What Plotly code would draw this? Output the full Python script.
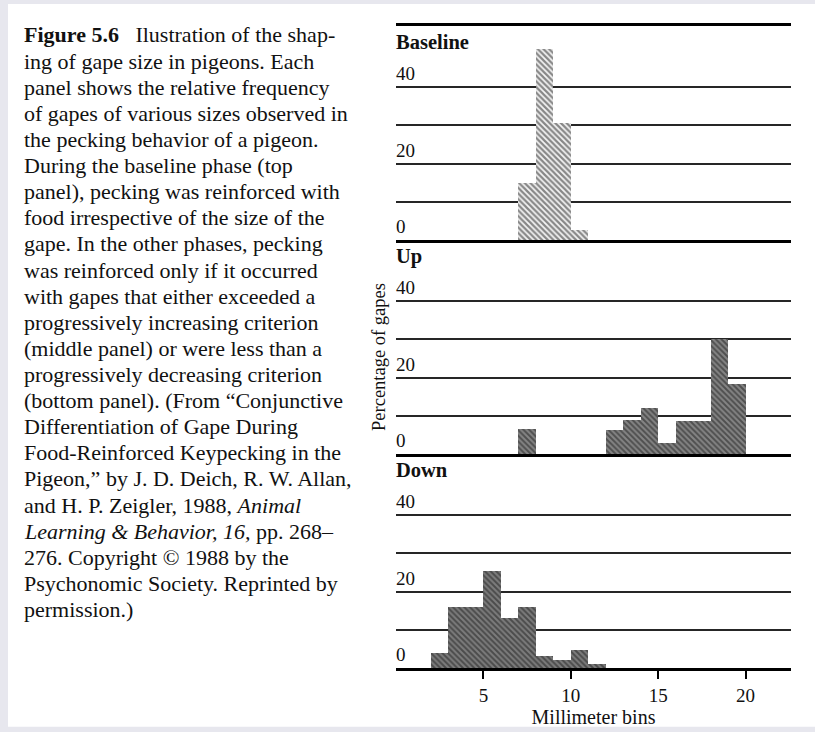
import plotly.graph_objects as go
from plotly.subplots import make_subplots

# ---------------- data ----------------
panel_names = ["Baseline", "Up", "Down"]

baseline_bins = [7, 8, 9, 10]
baseline_pct = [15, 50, 30.5, 2.5]

up_bins = [7, 12, 13, 14, 15, 16, 17, 18, 19]
up_pct = [6.5, 6.2, 9, 12, 3, 8.7, 8.7, 30, 18.2]

down_bins = [2, 3, 4, 5, 6, 7, 8, 9, 10, 11]
down_pct = [4, 16, 16, 25.5, 13, 16, 3.2, 2.2, 4.8, 1]

y_gridvals = [0, 10, 20, 30, 40]
y_labelvals = [0, 20, 40]
y_labeltext = ["0", "20", "40"]
x_tickvals = [5, 10, 15, 20]

x_title = "Millimeter bins"
y_title = "Percentage of gapes"

caption_lines = [
    "<b>Figure 5.6</b>   Ilustration of the shap-",
    "ing of gape size in pigeons. Each",
    "panel shows the relative frequency",
    "of gapes of various sizes observed in",
    "the pecking behavior of a pigeon.",
    "During the baseline phase (top",
    "panel), pecking was reinforced with",
    "food irrespective of the size of the",
    "gape. In the other phases, pecking",
    "was reinforced only if it occurred",
    "with gapes that either exceeded a",
    "progressively increasing criterion",
    "(middle panel) or were less than a",
    "progressively decreasing criterion",
    "(bottom panel). (From \u201cConjunctive",
    "Differentiation of Gape During",
    "Food-Reinforced Keypecking in the",
    "Pigeon,\u201d by J. D. Deich, R. W. Allan,",
    "and H. P. Zeigler, 1988, <i>Animal</i>",
    "<i>Learning &amp; Behavior, 16,</i> pp. 268\u2013",
    "276. Copyright \u00a9 1988 by the",
    "Psychonomic Society. Reprinted by",
    "permission.)",
]

# ---------------- layout constants ----------------
W, H = 815, 732
ML, MR, MT, MB = 396, 24, 26, 62
PW = W - ML - MR
PH = H - MT - MB
SERIF = "Liberation Serif, Times New Roman, serif"
INK = "#111111"


def px_x(px):
    return (px - ML) / PW


def px_y(py):
    return (H - MB - py) / PH


fig = make_subplots(rows=3, cols=1, shared_xaxes=True, vertical_spacing=0)

series = [(baseline_bins, baseline_pct), (up_bins, up_pct), (down_bins, down_pct)]
patterns = [
    dict(shape="\\", fgcolor="#1a1a1a", bgcolor="#f4f4f4", size=4, solidity=0.55),
    dict(shape="\\", fgcolor="#1a1a1a", bgcolor="#848484", size=4, solidity=0.5),
    dict(shape="\\", fgcolor="#1a1a1a", bgcolor="#7c7c7c", size=4, solidity=0.5),
]

for i, ((bins, vals), pat) in enumerate(zip(series, patterns), start=1):
    sfx = "" if i == 1 else str(i)
    fig.add_trace(
        go.Bar(
            x=[b + 0.5 for b in bins],
            y=vals,
            width=1,
            marker=dict(color=pat["bgcolor"], pattern=pat, line=dict(width=0)),
            showlegend=False,
            hoverinfo="x+y",
        ),
        row=i, col=1,
    )
    fig.update_yaxes(
        range=[0, 56],
        tickvals=y_gridvals,
        showticklabels=False,
        ticks="",
        showgrid=True,
        gridcolor="#262626",
        gridwidth=1.6,
        zeroline=False,
        showline=False,
        row=i, col=1,
    )
    fig.update_xaxes(
        range=[0, 22.6],
        showgrid=False,
        zeroline=False,
        showline=True,
        linecolor="#000",
        linewidth=2.6,
        row=i, col=1,
    )
    # panel title
    fig.add_annotation(
        text="<b>%s</b>" % panel_names[i - 1],
        xref="x%s domain" % sfx, yref="y%s domain" % sfx,
        x=0, y=1, xanchor="left", yanchor="top", yshift=-3, xshift=-2,
        showarrow=False,
        font=dict(family=SERIF, size=20.5, color=INK),
    )
    # y tick labels sitting above their grid lines
    for v, t in zip(y_labelvals, y_labeltext):
        fig.add_annotation(
            text=t,
            xref="x%s domain" % sfx, yref="y%s" % sfx,
            x=0, y=v, xanchor="left", yanchor="bottom", yshift=1, xshift=-2,
            showarrow=False,
            font=dict(family=SERIF, size=19, color=INK),
        )

fig.update_xaxes(mirror=True, row=1, col=1)
fig.update_xaxes(
    tickvals=x_tickvals,
    ticks="outside",
    ticklen=8,
    tickwidth=1.5,
    tickcolor="#000",
    showticklabels=True,
    tickfont=dict(family=SERIF, size=19, color=INK),
    title=dict(text=x_title, font=dict(family=SERIF, size=20, color=INK), standoff=0),
    row=3, col=1,
)

# y-axis title
fig.add_annotation(
    text=y_title, xref="paper", yref="paper",
    x=px_x(379), y=px_y(358), xanchor="center", yanchor="middle",
    textangle=-90, showarrow=False,
    font=dict(family=SERIF, size=18.5, color=INK),
)

# caption
for k, line in enumerate(caption_lines):
    fig.add_annotation(
        text=line, xref="paper", yref="paper",
        x=px_x(22), y=px_y(35 + k * 26.2), xanchor="left", yanchor="middle",
        showarrow=False, align="left",
        font=dict(family=SERIF, size=22, color=INK),
    )

# page (white) over a light grey border
fig.add_shape(
    type="rect", xref="paper", yref="paper", layer="below",
    x0=px_x(8), x1=px_x(816), y0=px_y(729), y1=px_y(4),
    fillcolor="#ffffff", line=dict(width=0),
)

fig.update_layout(
    width=W, height=H,
    margin=dict(l=ML, r=MR, t=MT, b=MB),
    paper_bgcolor="#e7e7ee",
    plot_bgcolor="rgba(0,0,0,0)",
    bargap=0,
    font=dict(family=SERIF, color=INK),
)

fig.write_html("out.html")
